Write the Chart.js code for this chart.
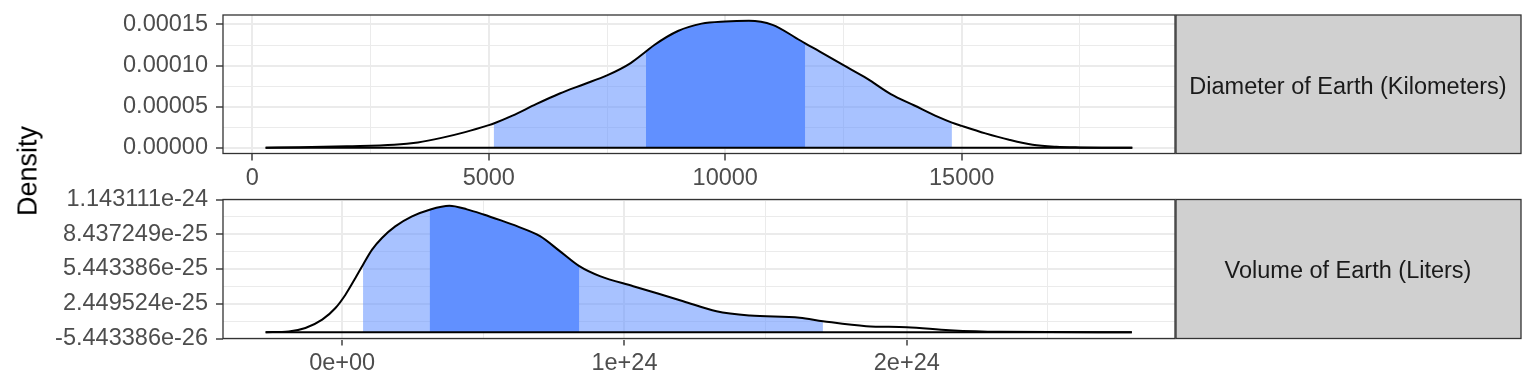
<!DOCTYPE html>
<html lang="en">
<head>
<meta charset="UTF-8">
<title>Diameter and Volume of Earth - densities</title>
<script src="https://cdn.jsdelivr.net/npm/chart.js"></script>
<style>
    body { margin: 0; background: #fff; }
    #wrap { position: relative; width: 1536px; height: 384px; }
    #wrap canvas { position: absolute; left: 0; top: 0; }
    #ytitle {
        position: absolute; left: 28px; top: 171px;
        transform: translate(-50%, -50%) rotate(-90deg);
        font: 27px 'Liberation Sans', Arial, sans-serif;
        color: #000; white-space: nowrap;
    }
</style>
</head>
<body>
<div id="wrap">
    <canvas id="diamChart" width="1536" height="384"></canvas>
    <canvas id="volChart" width="1536" height="384"></canvas>
    <div id="ytitle">Density</div>
</div>
<script>
const stripLabels = ['Diameter of Earth (Kilometers)', 'Volume of Earth (Liters)'];

// diameter panel
const diamX = [281, 1000, 2000, 3000, 3500, 4000, 4500, 5000, 5104, 5500, 6000, 6500, 7000, 7500, 8000,
    8322, 8500, 9000, 9500, 10000, 10500, 11000, 11500, 11690, 12000, 12500, 13000, 13500, 14000, 14500,
    14793, 15000, 15500, 16000, 16500, 17000, 17500, 18000, 18607];
const diamY = [0, 0.6e-6, 1.8e-6, 3.6e-6, 6.5e-6, 1.2e-5, 1.9e-5, 2.75e-5, 2.95e-5, 3.9e-5, 5.3e-5, 6.6e-5,
    7.7e-5, 8.8e-5, 1.03e-4, 1.17e-4, 1.25e-4, 1.42e-4, 1.51e-4, 1.537e-4, 1.545e-4, 1.495e-4, 1.335e-4,
    1.27e-4, 1.17e-4, 1.004e-4, 8.41e-5, 6.53e-5, 5.14e-5, 3.75e-5, 3.06e-5, 2.66e-5, 1.75e-5, 9.7e-6,
    3.6e-6, 1.2e-6, 4e-7, 1e-7, 0];
const diamInner = [8322, 11690];
const diamOuter = [5104, 14793];
const diamXTicks = [0, 5000, 10000, 15000];
const diamXLabels = ['0', '5000', '10000', '15000'];
const diamYTicks = [0, 0.00005, 0.0001, 0.00015];
const diamYLabels = ['0.00000', '0.00005', '0.00010', '0.00015'];

// volume panel
const volX = [-0.271e24, -0.189e24, -0.130e24, -0.0707e24, -0.0237e24, 0.0117e24, 0.047e24, 0.074e24,
    0.106e24, 0.141e24, 0.188e24, 0.2475e24, 0.310e24, 0.380e24, 0.442e24, 0.501e24, 0.560e24, 0.619e24,
    0.701e24, 0.771e24, 0.840e24, 0.913e24, 1.031e24, 1.208e24, 1.326e24, 1.444e24, 1.621e24, 1.703e24,
    1.856e24, 2.0e24, 2.151e24, 2.328e24, 2.797e24];
const volY = [0, 6.9e-27, 3.62e-26, 1.077e-25, 2.085e-25, 3.231e-25, 4.67e-25, 5.815e-25,
    7.108e-25, 8.116e-25, 9.115e-25, 9.977e-25, 1.0554e-24, 1.0887e-24, 1.058e-24, 1.014e-24, 9.65e-25, 9.132e-25,
    8.271e-25, 6.98e-25, 5.686e-25, 4.825e-25, 3.963e-25, 2.671e-25, 1.809e-25, 1.439e-25, 1.241e-25, 9.48e-26,
    5.17e-26, 4.31e-26, 1.72e-26, 3.4e-27, 0];
const volInner = [0.310e24, 0.840e24];
const volOuter = [0.074e24, 1.703e24];
const volXTicks = [0, 1e24, 2e24];
const volXLabels = ['0e+00', '1e+24', '2e+24'];
const volYTicks = [-5.443386e-26, 2.449524e-25, 5.443386e-25, 8.437249e-25, 1.143111e-24];
const volYLabels = ['-5.443386e-26', '2.449524e-25', '5.443386e-25', '8.437249e-25', '1.143111e-24'];

const FONT = "'Liberation Sans', Arial, Helvetica, sans-serif";
const FONT_SIZE = 23.5;
Chart.defaults.font.family = FONT;
Chart.defaults.font.size = FONT_SIZE;
Chart.defaults.color = '#4D4D4D';

function pts(xs, ys, lo, hi) {
    const out = [];
    xs.forEach((x, i) => { if (x >= lo && x <= hi) out.push({ x: x, y: ys[i] }); });
    return out;
}

// major ticks plus the half-way minor ones (ggplot style grid)
function ticksFor(major, scale) {
    const step = major[1] - major[0];
    const list = major.map(v => ({ value: v, sub: false }));
    list.push({ value: major[0] - step / 2, sub: true });
    major.forEach(v => list.push({ value: v + step / 2, sub: true }));
    const eps = step * 1e-6;
    return list.filter(t => t.value >= scale.min - eps && t.value <= scale.max + eps)
        .sort((a, b) => a.value - b.value);
}

function labelFor(major, labels, tick) {
    if (!tick || tick.sub) return '';
    const step = major[1] - major[0];
    const i = major.findIndex(m => Math.abs(m - tick.value) < step * 1e-6);
    return i < 0 ? '' : labels[i];
}

const grid = {
    color: '#EBEBEB',
    lineWidth: c => (c.tick && c.tick.sub ? 1 : 2),
    tickColor: c => (c.tick && c.tick.sub ? 'rgba(0,0,0,0)' : '#333333'),
    tickWidth: 1.4,
    tickLength: 7
};

const stripPlugin = {
    id: 'strip',
    afterDraw(chart, args, opts) {
        const ctx = chart.ctx, a = chart.chartArea;
        const w = 346;
        ctx.save();
        ctx.strokeStyle = '#333333';
        ctx.lineWidth = 1.3;
        ctx.strokeRect(a.left, a.top, a.right - a.left, a.bottom - a.top);
        ctx.fillStyle = '#D0D0D0';
        ctx.fillRect(a.right + 1, a.top, w - 1, a.bottom - a.top);
        ctx.strokeRect(a.right + 1, a.top, w - 1, a.bottom - a.top);
        ctx.fillStyle = '#1A1A1A';
        ctx.font = FONT_SIZE + 'px ' + FONT;
        ctx.textAlign = 'center';
        ctx.textBaseline = 'middle';
        ctx.fillText(opts.label, a.right + w / 2, (a.top + a.bottom) / 2 + 3);
        ctx.restore();
    }
};

function makePanel(id, p) {
    return new Chart(document.getElementById(id), {
        type: 'line',
        data: {
            datasets: [
                { data: pts(p.xs, p.ys, -Infinity, Infinity), borderColor: '#000', borderWidth: 2, fill: false },
                { data: [{ x: p.xs[0], y: 0 }, { x: p.xs[p.xs.length - 1], y: 0 }], borderColor: '#000', borderWidth: 2, fill: false },
                { data: pts(p.xs, p.ys, p.inner[0], p.inner[1]), borderColor: 'rgba(0,0,0,0)', borderWidth: 1, backgroundColor: '#6190FF', fill: 'origin' },
                { data: pts(p.xs, p.ys, p.outer[0], p.outer[1]), borderColor: 'rgba(0,0,0,0)', borderWidth: 1, backgroundColor: 'rgba(97,143,255,0.55)', fill: 'origin' }
            ]
        },
        options: {
            responsive: false,
            animation: false,
            events: [],
            layout: { padding: { left: 0, right: 361, top: p.top, bottom: p.bottom } },
            elements: { point: { radius: 0 }, line: { cubicInterpolationMode: 'monotone' } },
            plugins: { legend: { display: false }, tooltip: { enabled: false }, strip: { label: p.strip } },
            scales: {
                x: {
                    type: 'linear', min: p.xMin, max: p.xMax,
                    afterBuildTicks: s => { s.ticks = ticksFor(p.xTicks, s); },
                    afterFit: s => { s.height = p.xAxisH; s.paddingLeft = 0; s.paddingRight = 0; },
                    ticks: { autoSkip: false, maxRotation: 0, padding: 4,
                        callback: (v, i, t) => labelFor(p.xTicks, p.xLabels, t[i]) },
                    grid: grid,
                    border: { display: false }
                },
                y: {
                    type: 'linear', min: p.yMin, max: p.yMax,
                    afterBuildTicks: s => { s.ticks = ticksFor(p.yTicks, s); },
                    afterFit: s => { s.width = 223; s.paddingTop = 0; s.paddingBottom = 0; },
                    ticks: { autoSkip: false, padding: 8,
                        callback: (v, i, t) => labelFor(p.yTicks, p.yLabels, t[i]) },
                    grid: grid,
                    border: { display: false }
                }
            }
        },
        plugins: [stripPlugin]
    });
}

makePanel('diamChart', {
    xs: diamX, ys: diamY, inner: diamInner, outer: diamOuter,
    xTicks: diamXTicks, xLabels: diamXLabels, yTicks: diamYTicks, yLabels: diamYLabels,
    xMin: -620, xMax: 19510, yMin: -7e-6, yMax: 1.615e-4,
    top: 15, bottom: 192, xAxisH: 38.5, strip: stripLabels[0]
});

makePanel('volChart', {
    xs: volX, ys: volY, inner: volInner, outer: volOuter,
    xTicks: volXTicks, xLabels: volXLabels, yTicks: volYTicks, yLabels: volYLabels,
    xMin: -0.422e24, xMax: 2.950e24, yMin: -5.443386e-26, yMax: 1.143111e-24,
    top: 199.5, bottom: 0, xAxisH: 45.5, strip: stripLabels[1]
});
</script>
</body>
</html>
